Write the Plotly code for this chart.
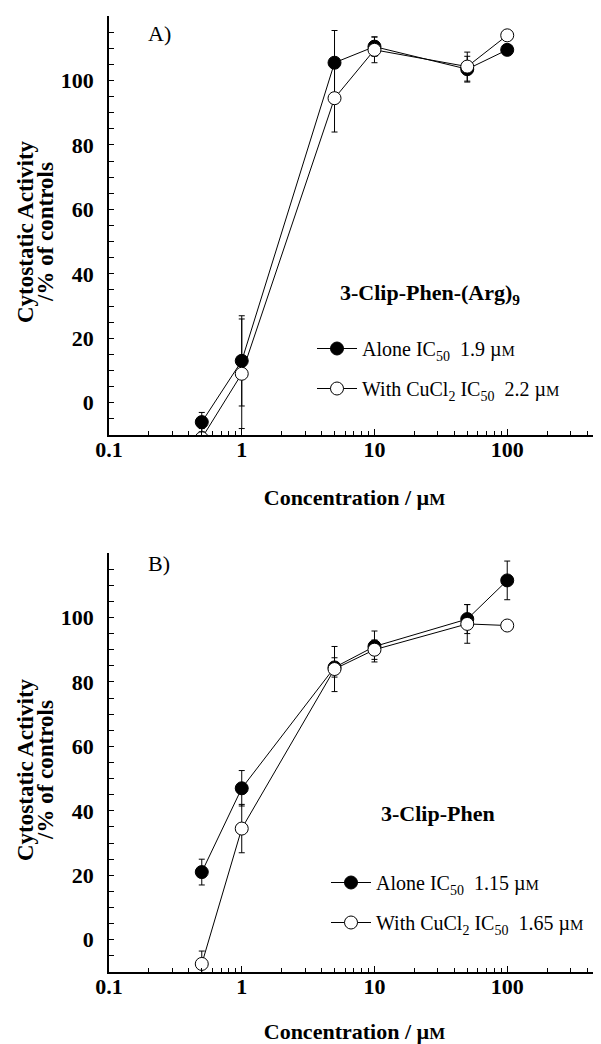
import plotly.graph_objects as go

# ---- data ----
conc = [0.5, 1, 5, 10, 50, 100]

a_alone = [-6, 13, 105.5, 110.5, 103.5, 109.5]
a_alone_err = [3, 14, 10, 3, 4, 0]
a_cu = [-11, 9, 94.5, 109.5, 104.3, 114]
a_cu_err = [3, 17, 10.5, 4, 4.5, 0]

b_alone = [21, 47, 84.5, 91, 99.5, 111.5]
b_alone_err = [4, 5.5, 3, 4.8, 4.5, 6]
b_cu = [-7.5, 34.5, 84, 90, 98, 97.5]
b_cu_err = [4, 7.5, 7, 3, 6, 0]

SP = "\u00a0"
MU = "µ<span style='font-size:15px'>M</span>"
names_a = [f"Alone IC<sub>50</sub>{SP}{SP}1.9{SP}{MU}",
           f"With CuCl<sub>2</sub>{SP}IC<sub>50</sub>{SP}{SP}2.2{SP}{MU}"]
names_b = [f"Alone IC<sub>50</sub>{SP}{SP}1.15{SP}{MU}",
           f"With CuCl<sub>2</sub>{SP}IC<sub>50</sub>{SP}{SP}1.65{SP}{MU}"]

FONT = "Liberation Serif"
OFF = 8                      # page body margin
W, H = 601 - OFF, 1044 - OFF
ML, MR, MT, MB = 109 - OFF, 1, 16 - OFF, 72
PW = W - ML - MR
PH = H - MT - MB

def sx(px):
    """paper x for a screen pixel"""
    return (px - OFF - ML) / PW

def sy(py):
    """paper y for a screen pixel"""
    return 1 - (py - OFF - MT) / PH

fig = go.Figure()

def add_pair(xa, ya, alone, alone_err, cu, cu_err, names, legend):
    fig.add_trace(go.Scatter(
        x=conc, y=alone, mode="lines+markers", name=names[0], xaxis=xa, yaxis=ya,
        line=dict(color="black", width=1),
        marker=dict(symbol="circle", size=13, color="black", line=dict(color="black", width=1)),
        error_y=dict(type="data", array=alone_err, color="black", thickness=1, width=3),
        legend=legend, legendgroup=legend + "a",
    ))
    fig.add_trace(go.Scatter(
        x=conc, y=cu, mode="lines+markers", name=names[1], xaxis=xa, yaxis=ya,
        line=dict(color="black", width=1),
        marker=dict(symbol="circle", size=13, color="white", line=dict(color="black", width=1)),
        error_y=dict(type="data", array=cu_err, color="black", thickness=1, width=3),
        legend=legend, legendgroup=legend + "b",
    ))

add_pair("x", "y", a_alone, a_alone_err, a_cu, a_cu_err, names_a, "legend")
add_pair("x2", "y2", b_alone, b_alone_err, b_cu, b_cu_err, names_b, "legend2")

xaxis_common = dict(
    type="log", range=[-1, 2.699], dtick=1, showline=True, linecolor="black", linewidth=1.5,
    ticks="inside", ticklen=6, tickcolor="black", showgrid=False, zeroline=False,
    minor=dict(ticks="inside", ticklen=4, tickcolor="black", showgrid=False),
    tickfont=dict(family=FONT, size=22, color="black", weight="bold"),
    ticklabelstandoff=-6,
    automargin=False, domain=[0, 1],
    title=dict(text="<b>Concentration / µ<span style='font-size:17px'>M</span></b>",
               font=dict(family=FONT, size=22, color="black"), standoff=28),
)
yaxis_common = dict(
    range=[-10, 120], tickvals=[0, 20, 40, 60, 80, 100], showline=True, linecolor="black",
    linewidth=1.5, ticks="inside", ticklen=5, tickcolor="black", showgrid=False, zeroline=False,
    minor=dict(dtick=5, tick0=0, ticks="inside", ticklen=5, tickcolor="black", showgrid=False),
    tickfont=dict(family=FONT, size=22, color="black", weight="bold"),
    ticklabelstandoff=9, automargin=False,
)

domA = [sy(435), sy(16)]
domB = [sy(972), sy(553)]

fig.update_layout(
    xaxis=dict(anchor="y", **xaxis_common),
    yaxis=dict(anchor="x", domain=domA, **yaxis_common),
    xaxis2=dict(anchor="y2", **xaxis_common),
    yaxis2=dict(anchor="x2", domain=domB, **yaxis_common),
)

ann_font = dict(family=FONT, size=22, color="black")
ytitle_font = dict(family=FONT, size=23, color="black")
common_ann = dict(xref="paper", yref="paper", showarrow=False, xanchor="center", yanchor="middle")
annotations = [
    dict(text="A)", x=sx(159), y=sy(33), font=ann_font, **common_ann),
    dict(text="<b>3-Clip-Phen-(Arg)<sub>9</sub></b>", x=sx(430), y=sy(294),
         font=dict(family=FONT, size=22, color="black"), **common_ann),
    dict(text="B)", x=sx(159), y=sy(563), font=ann_font, **common_ann),
    dict(text="<b>3-Clip-Phen</b>", x=sx(438), y=sy(813),
         font=dict(family=FONT, size=22, color="black"), **common_ann),
]
for yc in (232, 770):
    annotations.append(dict(text="<b>Cytostatic Activity</b>", x=sx(25), y=sy(yc), textangle=-90,
                            font=ytitle_font, **common_ann))
    annotations.append(dict(text="<b>/% of controls</b>", x=sx(45), y=sy(yc), textangle=-90,
                            font=ytitle_font, **common_ann))

leg_common = dict(font=dict(family=FONT, size=20, color="black"), bgcolor="rgba(0,0,0,0)",
                  traceorder="grouped", tracegroupgap=11, itemwidth=40, xanchor="left", yanchor="top",
                  xref="paper", yref="paper")

fig.update_layout(
    width=W, height=H, margin=dict(l=ML, r=MR, t=MT, b=MB),
    paper_bgcolor="white", plot_bgcolor="white",
    annotations=annotations,
    legend=dict(x=sx(312), y=sy(329), **leg_common),
    legend2=dict(x=sx(326), y=sy(863), **leg_common),
    showlegend=True,
)

fig.write_html("out.html")
